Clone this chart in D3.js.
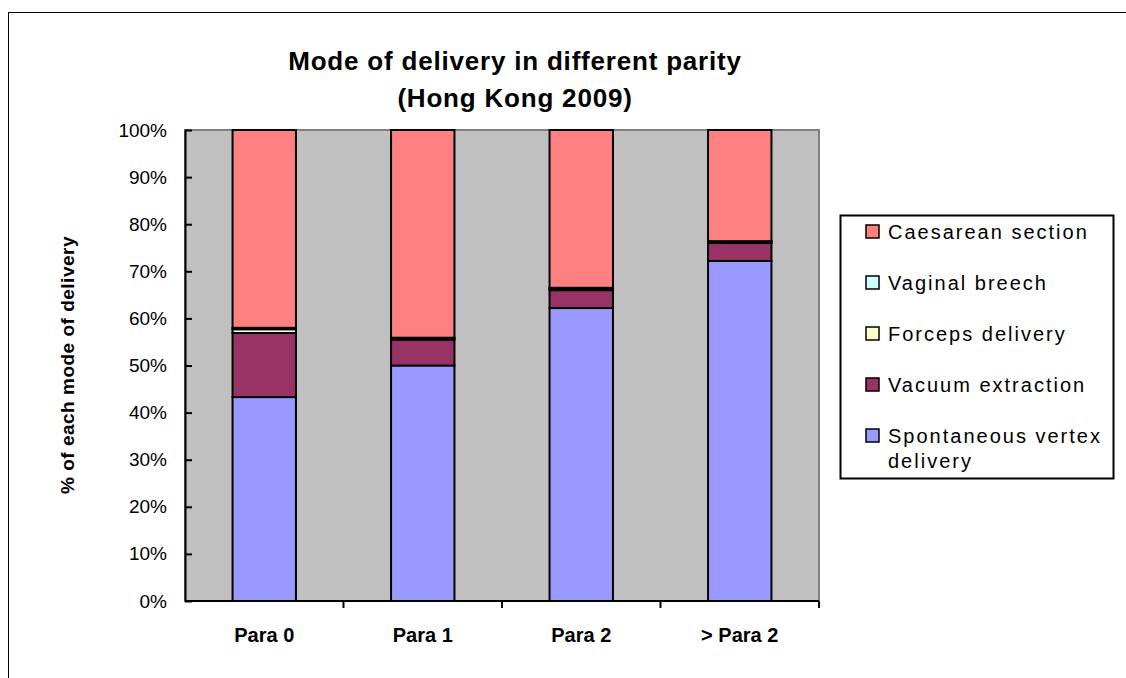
<!DOCTYPE html>
<html><head><meta charset="utf-8">
<script src="https://cdn.jsdelivr.net/npm/d3@7"></script>
<style>body{margin:0;background:#fff;} text{font-family:Arial,"Liberation Sans",sans-serif;}</style>
</head><body>
<svg id="c" width="1126" height="678"></svg>
<script>
const categories = ["Para 0", "Para 1", "Para 2", "> Para 2"];
const seriesNames = ["Spontaneous vertex delivery", "Vacuum extraction", "Forceps delivery", "Vaginal breech", "Caesarean section"];
const spontaneous = [43.3, 50.0, 62.2, 72.2];
const vacuum      = [13.6, 5.5, 3.8, 3.8];
const forceps     = [0.8, 0.3, 0.3, 0.2];
const breech      = [0.3, 0.1, 0.2, 0.2];
const caesarean   = [42.0, 44.1, 33.5, 23.6];
const yTicks = [0,10,20,30,40,50,60,70,80,90,100];
const colors = ["#9999FF", "#993366", "#FFFFCC", "#CCFFFF", "#FF8080"];

const rows = categories.map((c,i)=>({cat:c, s0:spontaneous[i], s1:vacuum[i], s2:forceps[i], s3:breech[i], s4:caesarean[i]}));
const keys = ["s0","s1","s2","s3","s4"];
const stacked = d3.stack().keys(keys).offset(d3.stackOffsetExpand)(rows);

const svg = d3.select("#c");
svg.append("rect").attr("x",8.5).attr("y",12.5).attr("width",1200).attr("height",800)
  .attr("fill","#fff").attr("stroke","#000").attr("stroke-width",1);

const L=185, R=819, T=130, B=601;
const x = d3.scaleBand().domain(categories).range([L,R]).paddingInner(0.6).paddingOuter(0.3);
const y = d3.scaleLinear().domain([0,1]).range([B,T]);

svg.append("rect").attr("x",L).attr("y",T).attr("width",R-L).attr("height",B-T)
  .attr("fill","#C0C0C0").attr("stroke","#808080").attr("stroke-width",2);

const g = svg.append("g");
stacked.forEach((s,si)=>{
  g.selectAll(null).data(s).enter().append("rect")
    .attr("x",d=>x(d.data.cat)).attr("width",x.bandwidth())
    .attr("y",d=>y(d[1])).attr("height",d=>y(d[0])-y(d[1]))
    .attr("fill",colors[si]).attr("stroke","#000").attr("stroke-width",2);
});

// y axis
const yAxis = d3.axisLeft(y).tickValues(yTicks.map(v=>v/100)).tickFormat(d=>Math.round(d*100)+"%")
  .tickSizeInner(-7).tickSizeOuter(0).tickPadding(18);
const ya = svg.append("g").attr("transform",`translate(${L},0)`).call(yAxis);
ya.select(".domain").attr("stroke","#000").attr("stroke-width",2);
ya.selectAll(".tick line").attr("stroke","#000").attr("stroke-width",2);
ya.selectAll("text").attr("font-size",19).attr("fill","#000");

// x axis
const xb = d3.scaleLinear().domain([0,4]).range([L,R]);
const xa = svg.append("g").attr("transform",`translate(0,${B})`);
xa.append("line").attr("x1",L).attr("x2",R).attr("y1",0).attr("y2",0).attr("stroke","#000").attr("stroke-width",2);
xa.selectAll(null).data([1,2,3,4]).enter().append("line")
  .attr("x1",d=>xb(d)).attr("x2",d=>xb(d)).attr("y1",0).attr("y2",7).attr("stroke","#000").attr("stroke-width",2);
xa.selectAll(null).data(categories).enter().append("text")
  .attr("x",d=>x(d)+x.bandwidth()/2).attr("y",41).attr("text-anchor","middle")
  .attr("font-size",20).attr("font-weight","bold").text(d=>d);

// titles
svg.append("text").attr("x",515).attr("y",70).attr("text-anchor","middle").attr("font-size",26)
  .attr("font-weight","bold").attr("letter-spacing",0.8).text("Mode of delivery in different parity");
svg.append("text").attr("x",515).attr("y",107).attr("text-anchor","middle").attr("font-size",26)
  .attr("font-weight","bold").attr("letter-spacing",0.8).text("(Hong Kong 2009)");
svg.append("text").attr("transform","translate(74,365) rotate(-90)").attr("text-anchor","middle")
  .attr("font-size",19).attr("font-weight","bold").attr("letter-spacing",0.5).text("% of each mode of delivery");

// legend
const lg = svg.append("g");
lg.append("rect").attr("x",840.5).attr("y",215.5).attr("width",273).attr("height",263)
  .attr("fill","#fff").attr("stroke","#000").attr("stroke-width",2);
const legendOrder = [4,3,2,1,0];
const legendLines = [["Caesarean section"],["Vaginal breech"],["Forceps delivery"],["Vacuum extraction"],["Spontaneous vertex","delivery"]];
legendOrder.forEach((si,k)=>{
  const cy = 232 + k*51;
  lg.append("rect").attr("x",866).attr("y",cy-7).attr("width",13).attr("height",13)
    .attr("fill",colors[si]).attr("stroke","#000").attr("stroke-width",1.5);
  legendLines[k].forEach((t,j)=>{
    lg.append("text").attr("x",888).attr("y",cy+7+j*25).attr("font-size",20).attr("letter-spacing",2).text(t);
  });
});
</script>
</body></html>
